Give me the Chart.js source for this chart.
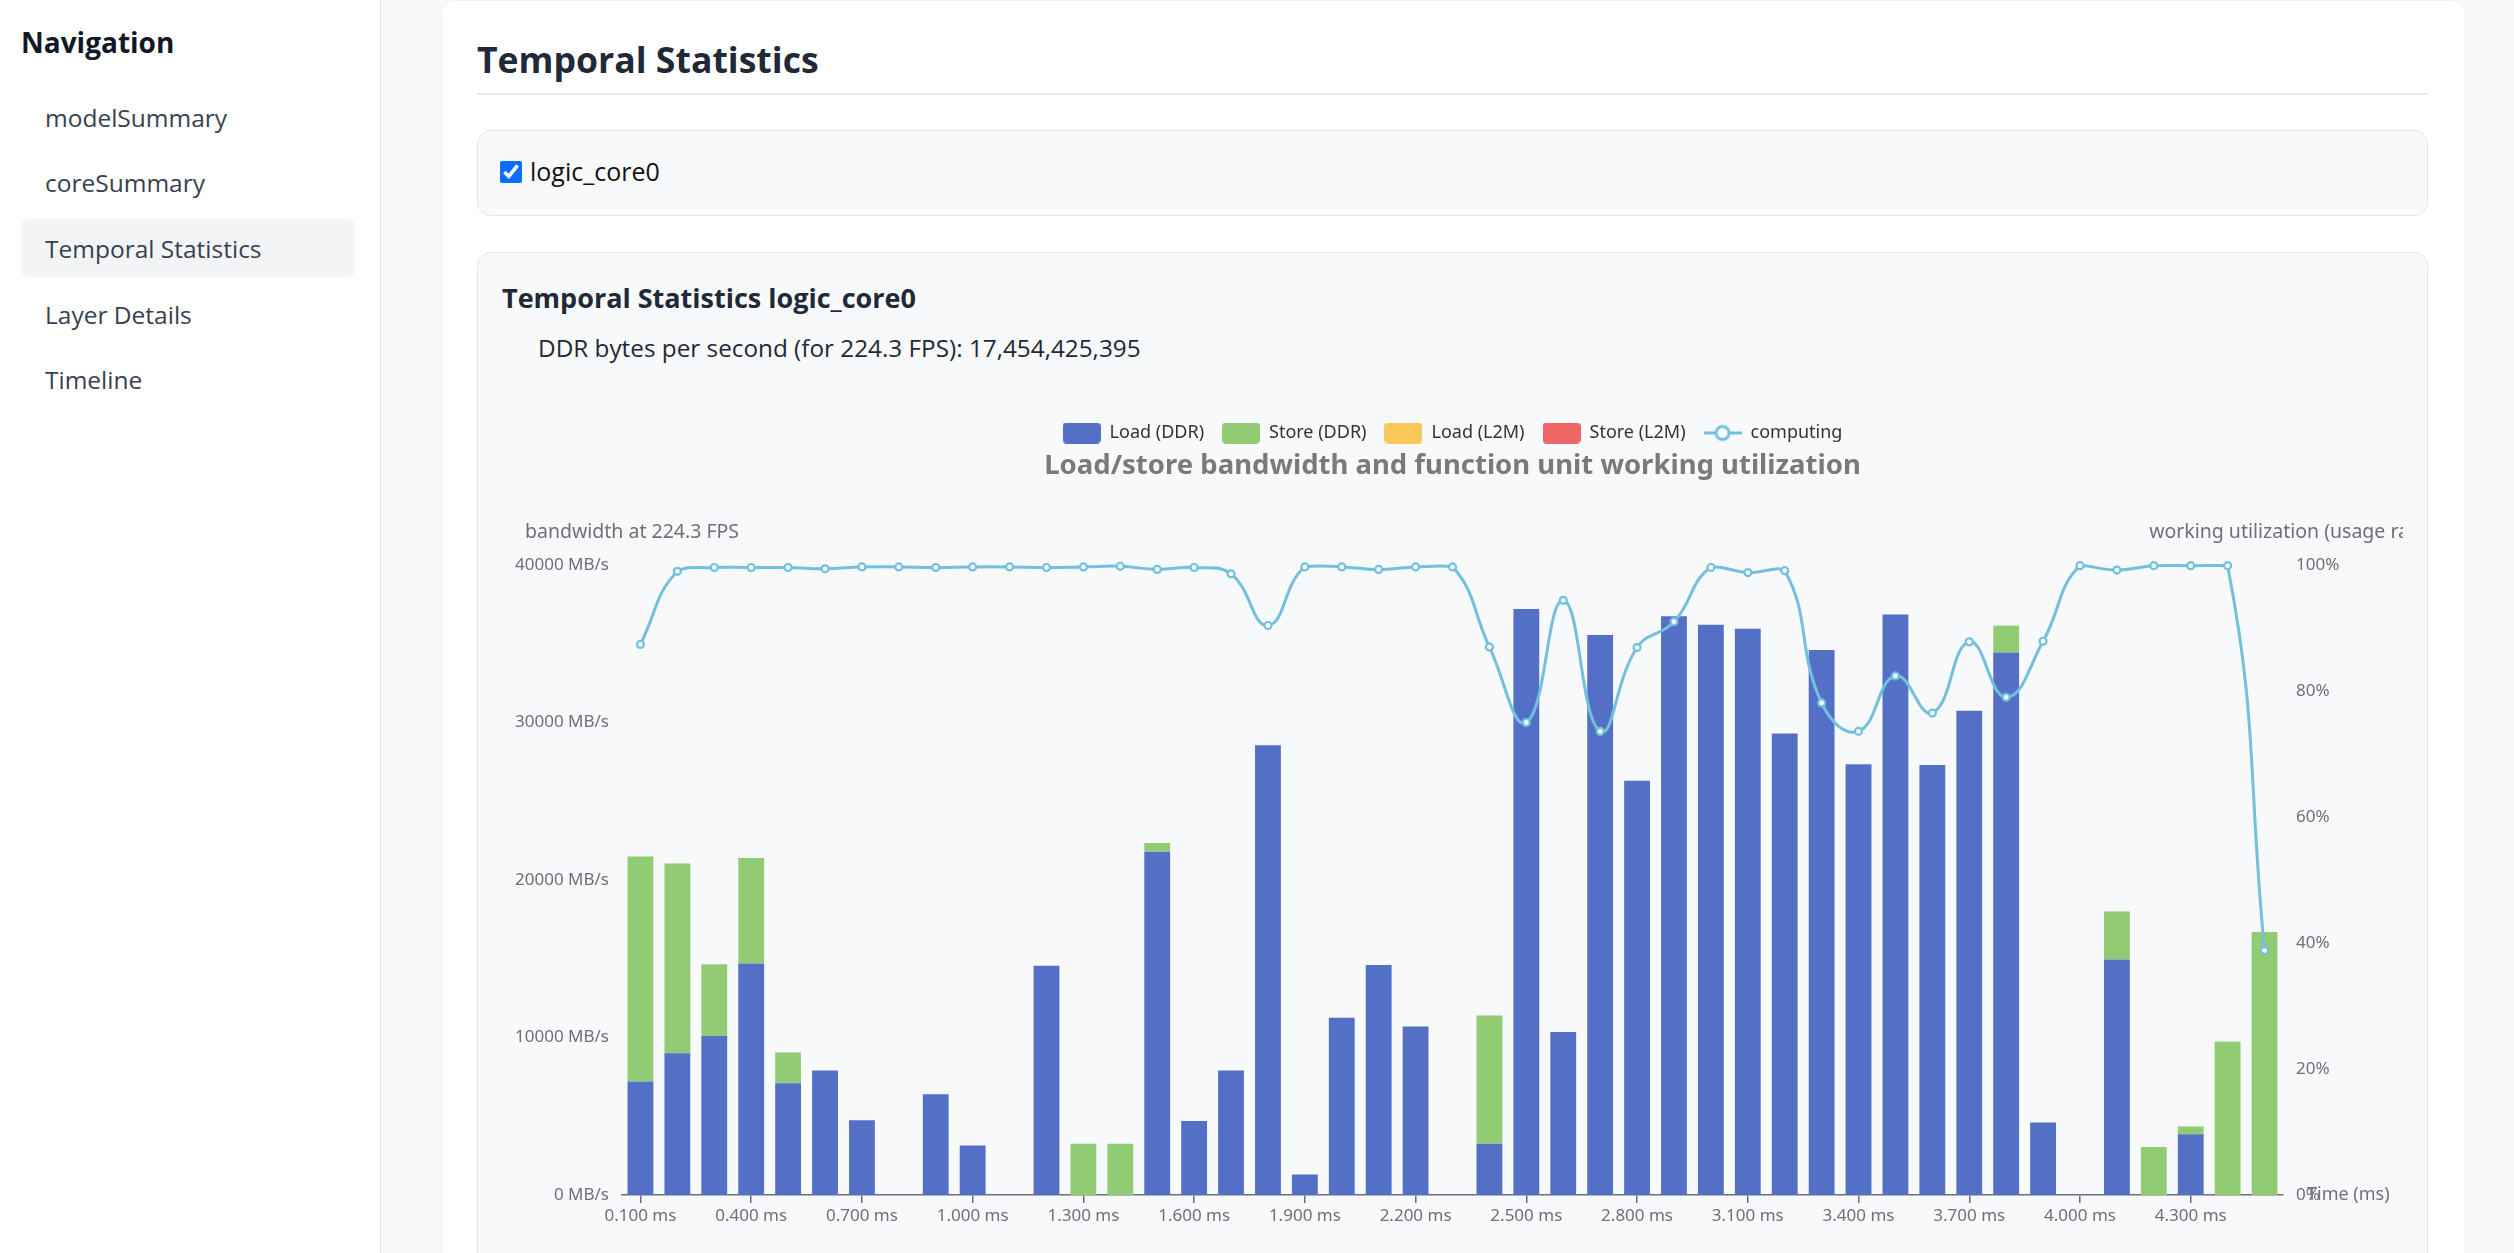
<!DOCTYPE html>
<html>
<head>
<meta charset="utf-8">
<title>Temporal Statistics</title>
<script src="https://cdn.jsdelivr.net/npm/chart.js@4.4.1/dist/chart.umd.min.js"></script>
<style>
  html, body { margin: 0; padding: 0; }
  body {
    width: 2514px; height: 1253px; overflow: hidden; position: relative;
    background: #f8f9fa; font-family: 'Open Sans', 'Noto Sans', sans-serif; color: #1f2937;
  }
  .side { position: absolute; left: 0; top: 0; width: 380px; height: 1253px; background: #fff; border-right: 1px solid #e5e7eb; }
  .side .head { position: absolute; left: 21px; top: 22px; font-size: 28px; font-weight: 700; color: #111827; line-height: 40px; }
  .side .item { position: absolute; left: 45px; font-size: 24.5px; color: #374151; line-height: 36px; }
  .side .active { position: absolute; left: 21px; top: 219px; width: 334px; height: 58px; background: #f3f4f6; border-radius: 8px; }
  .card { position: absolute; left: 441px; top: 0; width: 2023px; height: 1300px; background: #fff; border: 1px solid #eef0f3; border-radius: 14px; }
  h2 { position: absolute; left: 477px; top: 36px; margin: 0; font-size: 35.6px; font-weight: 700; line-height: 46px; color: #1f2937; }
  .rule { position: absolute; left: 477px; top: 93px; width: 1951px; height: 0; border-top: 2px solid #e9eaec; }
  .box { position: absolute; left: 477px; width: 1949px; background: #f8f9fa; border: 1px solid #e3e5e8; border-radius: 14px; }
  .cb { position: absolute; left: 500px; top: 161px; width: 22px; height: 22px; margin: 0; accent-color: #0d6efd; }
  .cblabel { position: absolute; left: 530px; top: 154px; font-size: 25px; line-height: 34px; color: #111; }
  h3 { position: absolute; left: 502px; top: 280px; margin: 0; font-size: 27px; font-weight: 700; line-height: 36px; color: #1f2937; }
  .ddr { position: absolute; left: 538px; top: 332px; font-size: 24.3px; line-height: 32px; color: #1f2937; }
  .chartwrap { position: absolute; left: 502px; top: 411px; width: 1901px; height: 870px; }
</style>
</head>
<body>
<div class="side">
  <div class="head">Navigation</div>
  <div class="active"></div>
  <div class="item" style="top:100px">modelSummary</div>
  <div class="item" style="top:165px">coreSummary</div>
  <div class="item" style="top:231px">Temporal Statistics</div>
  <div class="item" style="top:297px">Layer Details</div>
  <div class="item" style="top:362px">Timeline</div>
</div>
<div class="card"></div>
<h2>Temporal Statistics</h2>
<div class="rule"></div>
<div class="box" style="top:130px;height:84px"></div>
<input class="cb" type="checkbox" checked>
<div class="cblabel">logic_core0</div>
<div class="box" style="top:252px;height:1100px"></div>
<h3>Temporal Statistics logic_core0</h3>
<div class="ddr">DDR bytes per second (for 224.3 FPS): 17,454,425,395</div>
<div class="chartwrap"><canvas id="myChart"></canvas></div>

<script>
const categories = [
  '0.100 ms', '0.200 ms', '0.300 ms', '0.400 ms', '0.500 ms', '0.600 ms', '0.700 ms', '0.800 ms', '0.900 ms',
  '1.000 ms', '1.100 ms', '1.200 ms', '1.300 ms', '1.400 ms', '1.500 ms', '1.600 ms', '1.700 ms', '1.800 ms',
  '1.900 ms', '2.000 ms', '2.100 ms', '2.200 ms', '2.300 ms', '2.400 ms', '2.500 ms', '2.600 ms', '2.700 ms',
  '2.800 ms', '2.900 ms', '3.000 ms', '3.100 ms', '3.200 ms', '3.300 ms', '3.400 ms', '3.500 ms', '3.600 ms',
  '3.700 ms', '3.800 ms', '3.900 ms', '4.000 ms', '4.100 ms', '4.200 ms', '4.300 ms', '4.400 ms', '4.500 ms'
];

// MB/s
const loadDDR = [
  7200, 9000, 10100, 14700, 7100, 7900, 4750, 0, 6400,
  3150, 0, 14550, 0, 0, 21800, 4700, 7900, 28550,
  1300, 11250, 14600, 10700, 0, 3250, 37200, 10350, 35550,
  26300, 36750, 36200, 35950, 29300, 34600, 27350, 36850, 27300,
  30750, 34450, 4600, 0, 14950, 0, 3850, 0, 0
];
const storeDDR = [
  14300, 12050, 4550, 6700, 1950, 0, 0, 0, 0,
  0, 0, 0, 3250, 3250, 550, 0, 0, 0,
  0, 0, 0, 0, 0, 8150, 0, 0, 0,
  0, 0, 0, 0, 0, 0, 0, 0, 0,
  0, 1700, 0, 0, 3050, 3050, 500, 9750, 16700
];
const loadL2M = new Array(45).fill(0);
const storeL2M = new Array(45).fill(0);

// working utilization, %
const computing = [
  87.4, 99.0, 99.6, 99.6, 99.6, 99.4, 99.7, 99.7, 99.6,
  99.7, 99.7, 99.6, 99.7, 99.8, 99.3, 99.6, 98.6, 90.4,
  99.7, 99.7, 99.3, 99.7, 99.7, 87.0, 75.0, 94.4, 73.6,
  86.9, 91.0, 99.6, 98.8, 99.1, 78.1, 73.6, 82.4, 76.5,
  87.8, 79.0, 87.9, 99.9, 99.2, 99.9, 99.9, 99.9, 38.8
];

const bwTicks = [0, 10000, 20000, 30000, 40000];
const pctTicks = [0, 20, 40, 60, 80, 100];

const colors = ['#5470c6', '#91cc75', '#fac858', '#ee6666', '#73c0de'];
const axisColor = '#6E7079';

Chart.defaults.font.family = "'Noto Sans', sans-serif";

function boxIcon(color) {
  const c = document.createElement('canvas');
  c.width = 38; c.height = 21;
  const g = c.getContext('2d');
  g.fillStyle = color;
  g.beginPath();
  g.roundRect(0, 0, 38, 21, 4);
  g.fill();
  return c;
}

function lineIcon(color) {
  const c = document.createElement('canvas');
  c.width = 38; c.height = 21;
  const g = c.getContext('2d');
  g.strokeStyle = color;
  g.lineWidth = 3;
  g.beginPath();
  g.moveTo(0, 10.5); g.lineTo(38, 10.5);
  g.stroke();
  g.fillStyle = '#fff';
  g.beginPath();
  g.arc(19, 10.5, 6.5, 0, Math.PI * 2);
  g.fill();
  g.stroke();
  return c;
}

const icons = [boxIcon(colors[0]), boxIcon(colors[1]), boxIcon(colors[2]), boxIcon(colors[3]), lineIcon(colors[4])];

// axis names, the way the original chart puts them
const axisNames = {
  id: 'axisNames',
  afterDraw(chart) {
    const { ctx, chartArea } = chart;
    ctx.save();
    ctx.fillStyle = axisColor;
    ctx.font = "19.5px 'Noto Sans', sans-serif";
    ctx.textBaseline = 'middle';
    ctx.textAlign = 'center';
    ctx.fillText('bandwidth at 224.3 FPS', chartArea.left + 10, chartArea.top - 33);
    ctx.fillText('working utilization (usage rate)', chartArea.right + 8, chartArea.top - 33);
    ctx.font = "18px 'Noto Sans', sans-serif";
    ctx.textAlign = 'left';
    ctx.fillText('Time (ms)', chartArea.right + 24, chartArea.bottom);
    ctx.restore();
  }
};

const barSet = (label, values, color) => ({
  type: 'bar',
  label,
  data: values,
  backgroundColor: color,
  borderWidth: 0,
  stack: 'bw',
  yAxisID: 'y',
  order: 1,
  barPercentage: 0.7,
  categoryPercentage: 1
});

const data = {
  labels: categories,
  datasets: [
    barSet('Load (DDR)', loadDDR, colors[0]),
    barSet('Store (DDR)', storeDDR, colors[1]),
    barSet('Load (L2M)', loadL2M, colors[2]),
    barSet('Store (L2M)', storeL2M, colors[3]),
    {
      type: 'line',
      label: 'computing',
      data: computing,
      yAxisID: 'y1',
      order: 0,
      borderColor: colors[4],
      borderWidth: 3,
      tension: 0.45,
      clip: false,
      pointRadius: 3.5,
      pointBorderWidth: 2.2,
      pointBackgroundColor: '#fff',
      pointBorderColor: colors[4]
    }
  ]
};

const options = {
  responsive: true,
  maintainAspectRatio: false,
  animation: false,
  layout: { padding: { top: -5, left: 0, right: 0, bottom: 0 } },
  plugins: {
    tooltip: { enabled: false },
    legend: {
      position: 'top',
      weight: 3000,
      labels: {
        usePointStyle: true,
        pointStyleWidth: 38,
        padding: 18,
        color: '#333',
        font: { size: 18 },
        generateLabels(chart) {
          return chart.data.datasets.map((ds, i) => ({
            text: ds.label,
            pointStyle: icons[i],
            fillStyle: colors[i],
            strokeStyle: colors[i],
            lineWidth: 0,
            fontColor: '#333',
            hidden: !chart.isDatasetVisible(i),
            datasetIndex: i
          }));
        }
      }
    },
    title: {
      display: true,
      text: 'Load/store bandwidth and function unit working utilization',
      color: '#7a7a7a',
      weight: 500,
      font: { size: 27.5, weight: 'bold' },
      padding: { top: -2, bottom: 82 }
    }
  },
  scales: {
    x: {
      stacked: true,
      offset: true,
      afterFit(scale) { scale.height = 86; },
      grid: {
        offset: false,
        drawOnChartArea: false,
        drawTicks: true,
        tickLength: 8,
        lineWidth: 1.5,
        color: (ctx) => (ctx.index % 3 === 0 ? axisColor : 'rgba(0,0,0,0)')
      },
      border: { display: true, color: axisColor, width: 1.6 },
      ticks: {
        autoSkip: false,
        maxRotation: 0,
        padding: 3,
        color: axisColor,
        font: { size: 17 },
        callback: (value, index) => (index % 3 === 0 ? categories[index] : '')
      }
    },
    y: {
      stacked: true,
      position: 'left',
      min: bwTicks[0],
      max: bwTicks[bwTicks.length - 1],
      afterFit(scale) { scale.width = 120; },
      afterBuildTicks(scale) { scale.ticks = bwTicks.map(v => ({ value: v })); },
      grid: { display: false, drawTicks: false },
      border: { display: false },
      ticks: {
        padding: 13,
        color: axisColor,
        font: { size: 17 },
        callback: (v) => v + ' MB/s'
      }
    },
    y1: {
      position: 'right',
      min: pctTicks[0],
      max: pctTicks[pctTicks.length - 1],
      afterFit(scale) { scale.width = 120; },
      afterBuildTicks(scale) { scale.ticks = pctTicks.map(v => ({ value: v })); },
      grid: { display: false, drawTicks: false },
      border: { display: false },
      ticks: {
        padding: 13,
        color: axisColor,
        font: { size: 17 },
        callback: (v) => v + '%'
      }
    }
  }
};

const ctx = document.getElementById('myChart');
new Chart(ctx, { data, options, plugins: [axisNames] });
</script>
</body>
</html>
